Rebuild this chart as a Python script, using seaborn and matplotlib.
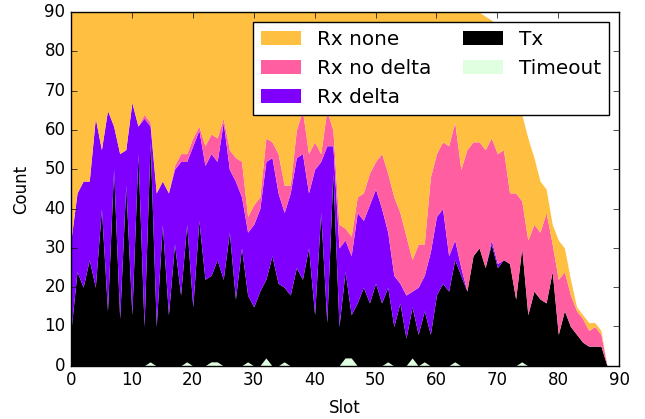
import numpy as np
import matplotlib
matplotlib.use("Agg")
import matplotlib.pyplot as plt
import seaborn as sns

slots = list(range(89))

timeout = [0, 0, 0, 0, 0, 0, 0, 0, 0, 0,
           0, 0, 0, 1, 0, 0, 0, 0, 0, 1,
           0, 0, 0, 1, 1, 0, 0, 0, 0, 1,
           0, 0, 2, 0, 0, 1, 0, 0, 0, 0,
           0, 0, 0, 0, 0, 2, 2, 0, 0, 0,
           0, 0, 1, 0, 0, 0, 2, 0, 1, 0,
           0, 0, 0, 1, 0, 0, 0, 0, 0, 0,
           0, 0, 0, 0, 1, 0, 0, 0, 0, 0,
           0, 0, 0, 0, 0, 0, 0, 0, 0]

tx = [9, 24, 20, 27, 20, 40, 14, 50, 12, 46,
      13, 54, 10, 56, 10, 36, 13, 31, 18, 35,
      15, 37, 22, 22, 26, 22, 34, 17, 30, 17,
      15, 19, 20, 28, 21, 19, 18, 25, 22, 30,
      13, 39, 11, 49, 10, 22, 11, 16, 20, 16,
      21, 16, 19, 10, 16, 7, 13, 8, 13, 8,
      18, 21, 19, 26, 23, 19, 28, 30, 25, 31,
      25, 27, 26, 17, 29, 13, 19, 17, 16, 24,
      8, 14, 10, 8, 6, 5, 5, 5, 0]

rx_delta = [23, 20, 27, 20, 43, 15, 51, 11, 42, 9,
            54, 7, 53, 4, 34, 11, 31, 19, 34, 16,
            41, 23, 29, 31, 25, 40, 16, 30, 13, 16,
            21, 21, 30, 25, 23, 19, 26, 28, 32, 14,
            37, 13, 45, 7, 20, 8, 15, 23, 17, 25,
            24, 24, 14, 13, 5, 11, 4, 12, 9, 21,
            20, 19, 9, 5, 2, 0, 0, 0, 0, 1,
            1, 0, 0, 0, 0, 0, 0, 0, 0, 0,
            0, 0, 0, 0, 0, 0, 0, 0, 0]

rx_no_delta = [0, 0, 0, 0, 0, 0, 0, 0, 0, 0,
               0, 0, 1, 1, 0, 0, 0, 1, 2, 2,
               2, 1, 5, 5, 6, 1, 5, 6, 9, 4,
               5, 3, 6, 4, 10, 7, 2, 7, 11, 10,
               7, 2, 9, 4, 6, 3, 5, 4, 7, 8,
               7, 14, 15, 20, 18, 15, 8, 11, 8, 19,
               16, 17, 28, 30, 25, 36, 29, 27, 30, 26,
               28, 28, 18, 27, 12, 19, 17, 17, 23, 7,
               14, 10, 8, 6, 6, 4, 5, 3, 0]

rx_none = [63, 51, 48, 48, 32, 40, 30, 34, 41, 40,
           28, 34, 31, 33, 51, 48, 51, 44, 41, 41,
           37, 34, 39, 36, 37, 32, 40, 42, 43, 57,
           54, 52, 37, 38, 41, 49, 49, 35, 30, 41,
           38, 41, 30, 35, 59, 60, 62, 52, 51, 46,
           43, 41, 46, 52, 56, 62, 68, 64, 64, 47,
           41, 38, 39, 33, 45, 40, 34, 33, 34, 30,
           32, 27, 32, 26, 22, 26, 17, 13, 6, 5,
           10, 6, 4, 1, 1, 2, 1, 1, 0]

labels = ["Timeout", "Tx", "Rx delta", "Rx no delta", "Rx none"]
colors = ["#E0FFE0", "#000000", "#7F00FF", "#FF5FA0", "#FFBF40"]

plt.style.use("classic")
sns.set_palette(colors)
plt.rcParams["font.family"] = ["DejaVu Sans"]
plt.rcParams["savefig.facecolor"] = "white"

fig = plt.figure(figsize=(6.45, 4.19), dpi=100, facecolor="white")
ax = fig.add_axes([0.110, 0.127, 0.850, 0.844])

polys = ax.stackplot(slots, timeout, tx, rx_delta, rx_no_delta, rx_none,
                     labels=labels, colors=colors, linewidth=0)

ax.set_xlim(0, 90)
ax.set_ylim(0, 90)
ax.set_xticks(range(0, 91, 10))
ax.set_yticks(range(0, 91, 10))
ax.set_xlabel("Slot", labelpad=7)
ax.set_ylabel("Count", labelpad=10)

handles = list(polys)[::-1]
ax.legend(handles, labels[::-1], loc="upper right", ncol=2,
          fancybox=False, shadow=False, framealpha=1.0, columnspacing=1.6)

fig.savefig("out.png", dpi=100, facecolor="white")
